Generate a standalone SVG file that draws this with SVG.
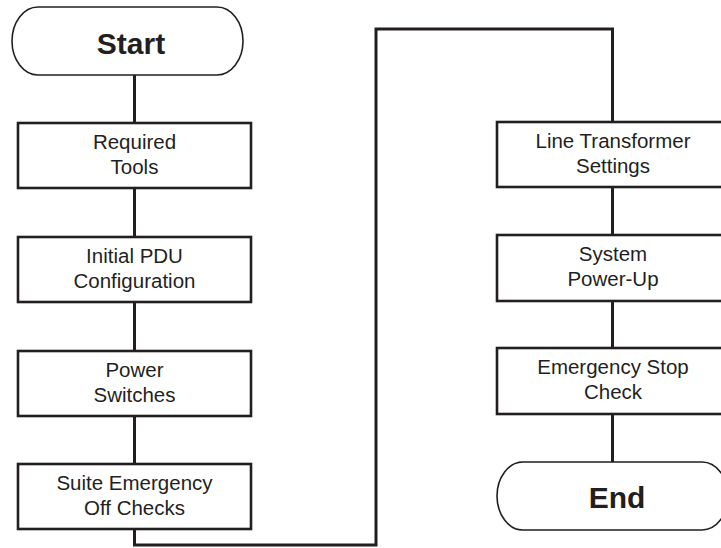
<svg xmlns="http://www.w3.org/2000/svg" width="721" height="548" viewBox="0 0 721 548">
<style>
.box{fill:#fff;stroke:#231f20;stroke-width:2.6}
.term{fill:#fff;stroke:#231f20;stroke-width:1.6}
.lbl{font-family:"Liberation Sans",Arial,sans-serif;font-size:20.5px;fill:#231f20;text-anchor:middle}
.big{font-family:"Liberation Sans",Arial,sans-serif;font-size:30px;font-weight:bold;fill:#231f20;text-anchor:middle}
.conn{fill:none;stroke:#231f20;stroke-width:3}
</style>
<rect width="721" height="548" fill="#fff"/>
<g id="connectors">
<line class="conn" x1="134.5" y1="75" x2="134.5" y2="123"/>
<line class="conn" x1="134.5" y1="188" x2="134.5" y2="237"/>
<line class="conn" x1="134.5" y1="302" x2="134.5" y2="351"/>
<line class="conn" x1="134.5" y1="416" x2="134.5" y2="464"/>
<polyline class="conn" points="134.5,529 134.5,545 376,545 376,29 612.5,29 612.5,122"/>
<line class="conn" x1="612.5" y1="187" x2="612.5" y2="235"/>
<line class="conn" x1="612.5" y1="301" x2="612.5" y2="348"/>
<line class="conn" x1="612.5" y1="414" x2="612.5" y2="462"/>
</g>
<g id="start">
<path class="term" d="M38,7 H217 A26,34 0 0 1 217,75 H38 A26,34 0 0 1 38,7 Z"/>
<text class="big" x="131" y="54">Start</text>
</g>
<g id="required-tools">
<rect class="box" x="18" y="123" width="233" height="65"/>
<text class="lbl" x="134.5" y="149">Required</text>
<text class="lbl" x="134.5" y="174">Tools</text>
</g>
<g id="initial-pdu">
<rect class="box" x="18" y="237" width="233" height="65"/>
<text class="lbl" x="134.5" y="263">Initial PDU</text>
<text class="lbl" x="134.5" y="288">Configuration</text>
</g>
<g id="power-switches">
<rect class="box" x="18" y="351" width="233" height="65"/>
<text class="lbl" x="134.5" y="377">Power</text>
<text class="lbl" x="134.5" y="402">Switches</text>
</g>
<g id="suite-emergency">
<rect class="box" x="18" y="464" width="233" height="65"/>
<text class="lbl" x="134.5" y="490">Suite Emergency</text>
<text class="lbl" x="134.5" y="515">Off Checks</text>
</g>
<g id="line-transformer">
<rect class="box" x="497" y="122" width="233" height="65"/>
<text class="lbl" x="613" y="148">Line Transformer</text>
<text class="lbl" x="613" y="173">Settings</text>
</g>
<g id="system-powerup">
<rect class="box" x="497" y="235" width="233" height="66"/>
<text class="lbl" x="613" y="261">System</text>
<text class="lbl" x="613" y="286">Power-Up</text>
</g>
<g id="emergency-stop">
<rect class="box" x="497" y="348" width="233" height="66"/>
<text class="lbl" x="613" y="374">Emergency Stop</text>
<text class="lbl" x="613" y="399">Check</text>
</g>
<g id="end">
<path class="term" d="M523,462 H702 A26,34 0 0 1 702,530 H523 A26,34 0 0 1 523,462 Z"/>
<text class="big" x="617" y="508">End</text>
</g>
</svg>
